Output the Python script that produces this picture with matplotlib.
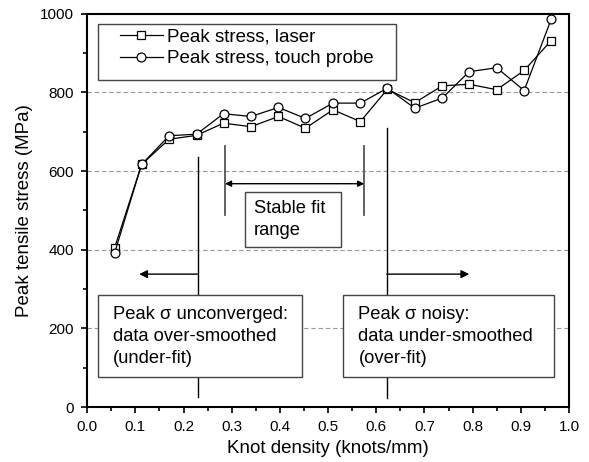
import matplotlib.pyplot as plt
import numpy as np
from matplotlib.ticker import MultipleLocator, FormatStrFormatter

plt.rcParams['font.family'] = ['Liberation Sans', 'DejaVu Sans']

# knot density (knots/mm)
knots = [0.057, 0.113, 0.170, 0.227, 0.283, 0.340, 0.397, 0.453, 0.510,
         0.567, 0.623, 0.680, 0.737, 0.793, 0.850, 0.907, 0.963]
# peak tensile stress (MPa)
laser = [405, 617, 681, 691, 722, 713, 739, 709, 756,
         726, 808, 774, 817, 821, 807, 856, 932]
probe = [392, 617, 690, 694, 746, 739, 762, 734, 773,
         773, 811, 760, 786, 853, 863, 805, 986]

left_text = "Peak \u03c3 unconverged:\ndata over-smoothed\n(under-fit)"
right_text = "Peak \u03c3 noisy:\ndata under-smoothed\n(over-fit)"
stable_text = "Stable fit\nrange"

fig = plt.figure(figsize=(5.89, 4.62), dpi=100)
ax = fig.add_axes([0.148, 0.119, 0.818, 0.851])

ax.set_xlim(0, 1.0)
ax.set_ylim(0, 1000)

# dashed grid at y
for y in [200, 400, 600, 800]:
    ax.axhline(y, color='#999999', linestyle=(0, (4, 2.5)), linewidth=0.8, zorder=0)

# region markers
ax.plot([0.229, 0.229], [25, 637], color='black', linewidth=1.0, zorder=1)
ax.plot([0.622, 0.622], [23, 710], color='black', linewidth=1.0, zorder=1)
ax.plot([0.286, 0.286], [489, 665], color='#555555', linewidth=1.3, zorder=1)
ax.plot([0.575, 0.575], [489, 665], color='#555555', linewidth=1.3, zorder=1)

arrow = dict(arrowstyle='-|>', color='black', linewidth=1.0, mutation_scale=12,
             shrinkA=0, shrinkB=0)
ax.annotate('', xy=(0.108, 338), xytext=(0.229, 338), arrowprops=arrow, zorder=1)
ax.annotate('', xy=(0.793, 338), xytext=(0.622, 338), arrowprops=arrow, zorder=1)
darrow = dict(arrowstyle='<|-|>', color='black', linewidth=1.0, mutation_scale=9,
              shrinkA=0, shrinkB=0)
ax.annotate('', xy=(0.286, 568), xytext=(0.575, 568), arrowprops=darrow, zorder=1)

ax.plot(knots, laser, color='black', linewidth=0.9, marker='s', markersize=5.6,
        markerfacecolor='white', markeredgecolor='black', markeredgewidth=0.9,
        label='Peak stress, laser', zorder=3)
ax.plot(knots, probe, color='black', linewidth=0.9, marker='o', markersize=6.4,
        markerfacecolor='white', markeredgecolor='black', markeredgewidth=0.9,
        label='Peak stress, touch probe', zorder=3)

# annotation boxes
ax.add_patch(plt.Rectangle((0.023, 76), 0.423, 209, facecolor='white',
                           edgecolor='#444444', linewidth=1.0, zorder=2))
ax.add_patch(plt.Rectangle((0.531, 76), 0.438, 209, facecolor='white',
                           edgecolor='#444444', linewidth=1.0, zorder=2))
ax.add_patch(plt.Rectangle((0.328, 407), 0.199, 140, facecolor='white',
                           edgecolor='#444444', linewidth=1.0, zorder=2))
ax.text(0.054, 180, left_text, fontsize=13.2, va='center', ha='left',
        linespacing=1.4, zorder=4)
ax.text(0.563, 180, right_text, fontsize=13.2, va='center', ha='left',
        linespacing=1.4, zorder=4)
ax.text(0.346, 477, stable_text, fontsize=13.2, va='center', ha='left',
        linespacing=1.4, zorder=4)

# legend frame drawn separately for wider side padding
ax.add_patch(plt.Rectangle((0.0228, 832), 0.618, 143, facecolor='white',
                           edgecolor='#444444', linewidth=1.0, zorder=4))
leg = ax.legend(loc='upper left', bbox_to_anchor=(0.068, 0.962), fontsize=13.5,
                frameon=False, handlelength=2.3, handletextpad=0.2,
                borderpad=0, labelspacing=0.22, borderaxespad=0)
leg.set_zorder(5)

ax.xaxis.set_major_locator(MultipleLocator(0.1))
ax.xaxis.set_minor_locator(MultipleLocator(0.05))
ax.xaxis.set_major_formatter(FormatStrFormatter('%.1f'))
ax.yaxis.set_major_locator(MultipleLocator(200))
ax.yaxis.set_minor_locator(MultipleLocator(100))
ax.tick_params(which='both', direction='out', labelsize=11, width=1.2)
ax.tick_params(which='major', length=4.5, pad=5)
ax.tick_params(which='minor', length=3)
for s in ax.spines.values():
    s.set_linewidth(1.5)

ax.set_xlabel('Knot density (knots/mm)', fontsize=13.5, labelpad=4)
ax.set_ylabel('Peak tensile stress (MPa)', fontsize=13.5, labelpad=5)

fig.savefig('out.png', dpi=100)
